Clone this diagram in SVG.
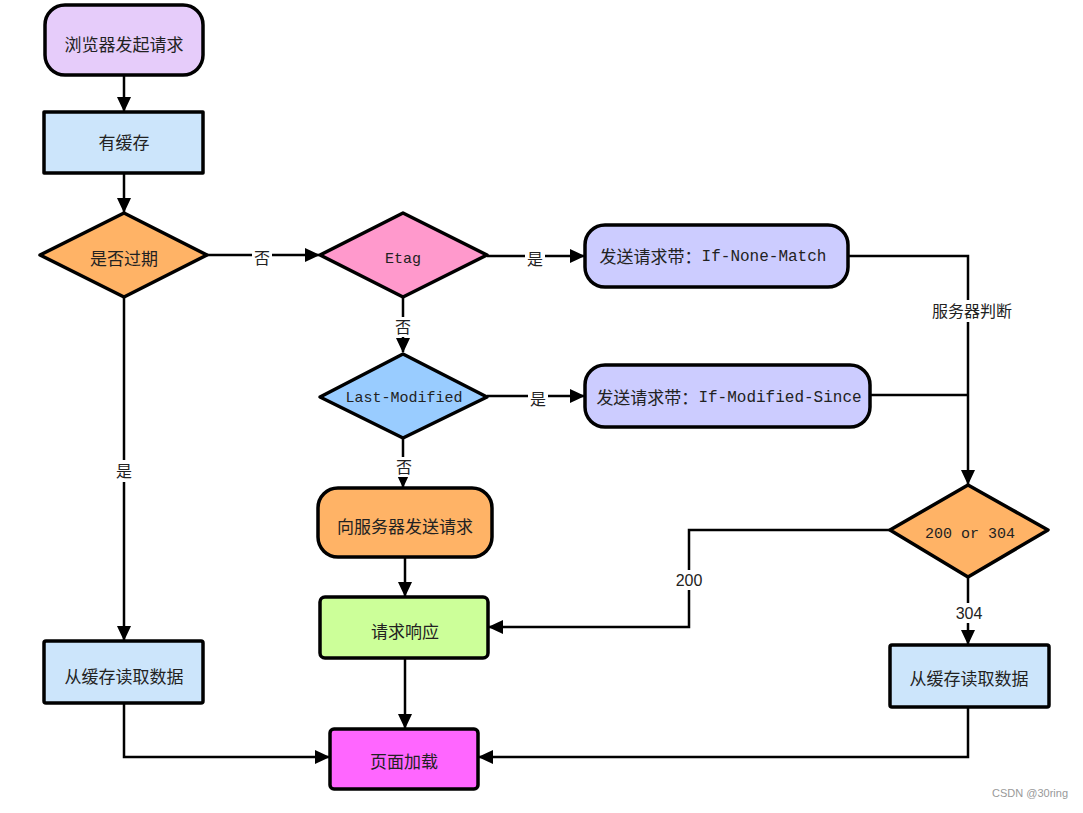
<svg xmlns="http://www.w3.org/2000/svg" width="1083" height="813" viewBox="0 0 1083 813">
<defs>
<marker id="arr" markerUnits="userSpaceOnUse" markerWidth="16" markerHeight="16" refX="14" refY="8" orient="auto">
<path d="M0,1 L15,8 L0,15 Z" fill="#000"/>
</marker>
</defs>
<style>
.n{stroke:#000;stroke-width:3.5;stroke-linejoin:round}
.c{fill:none;stroke:#000;stroke-width:2.5}
.t{font-family:"Liberation Sans","Noto Sans CJK SC",sans-serif;font-size:17px;fill:#222;text-anchor:middle;dominant-baseline:central}
.m{font-family:"Liberation Mono","Noto Sans CJK SC",monospace;font-size:15px;fill:#222;text-anchor:middle;dominant-baseline:central}
.l{font-family:"Liberation Sans","Noto Sans CJK SC",sans-serif;font-size:16px;fill:#222;text-anchor:middle;dominant-baseline:central}
.bg{fill:#fff}
</style>
<rect width="1083" height="813" fill="#fff"/>
<g id="connectors">
<path class="c" d="M124,76 V111" marker-end="url(#arr)"/>
<path class="c" d="M124,174 V212" marker-end="url(#arr)"/>
<path class="c" d="M207,255 H319" marker-end="url(#arr)"/>
<path class="c" d="M487,256 H584" marker-end="url(#arr)"/>
<path class="c" d="M848,256 H968 V484" marker-end="url(#arr)"/>
<path class="c" d="M403,297 V352" marker-end="url(#arr)"/>
<path class="c" d="M487,396 H584" marker-end="url(#arr)"/>
<path class="c" d="M870,395 H968"/>
<path class="c" d="M403,438 V487" marker-end="url(#arr)"/>
<path class="c" d="M405,558 V596" marker-end="url(#arr)"/>
<path class="c" d="M890,530 H689 V627 H489" marker-end="url(#arr)"/>
<path class="c" d="M968,577 V644" marker-end="url(#arr)"/>
<path class="c" d="M124,297 V640" marker-end="url(#arr)"/>
<path class="c" d="M405,659 V728" marker-end="url(#arr)"/>
<path class="c" d="M124,704 V757 H329" marker-end="url(#arr)"/>
<path class="c" d="M968,708 V757 H479" marker-end="url(#arr)"/>
<rect class="bg" x="252" y="246" width="20" height="20"/>
<text class="l" x="262" y="258">否</text>
<rect class="bg" x="525" y="247" width="20" height="20"/>
<text class="l" x="535" y="259">是</text>
<rect class="bg" x="926" y="300" width="94" height="22"/>
<text class="l" x="972" y="311">服务器判断</text>
<rect class="bg" x="394" y="317" width="18" height="20"/>
<text class="l" x="403" y="327">否</text>
<rect class="bg" x="528" y="388" width="20" height="20"/>
<text class="l" x="538" y="399">是</text>
<rect class="bg" x="394" y="457" width="18" height="20"/>
<text class="l" x="404" y="467">否</text>
<rect class="bg" x="674" y="570" width="30" height="20"/>
<text class="l" x="689" y="580">200</text>
<rect class="bg" x="954" y="603" width="30" height="20"/>
<text class="l" x="969" y="613">304</text>
<rect class="bg" x="114" y="460" width="20" height="22"/>
<text class="l" x="124" y="471">是</text>
</g>
<g id="n1"><rect class="n" x="45" y="5" width="158" height="70" rx="20" fill="#e6ccfa"/><text class="t" x="124" y="45">浏览器发起请求</text></g>
<g id="n2"><rect class="n" x="44" y="112" width="159" height="61" fill="#cce5fb"/><text class="t" x="124" y="143">有缓存</text></g>
<g id="n3"><polygon class="n" points="40,255 124,213 207,255 124,297" fill="#ffb366"/><text class="t" x="124" y="259">是否过期</text></g>
<g id="n4"><polygon class="n" points="320,255 403,213 487,255 403,297" fill="#ff99cc"/><text class="m" x="403" y="259">Etag</text></g>
<g id="n5"><rect class="n" x="585" y="225" width="263" height="62" rx="20" fill="#ccccff"/><text class="t" x="713" y="257"><tspan>发送请求带：</tspan><tspan font-family="Liberation Mono,monospace" font-size="16">If-None-Match</tspan></text></g>
<g id="n6"><polygon class="n" points="320,397 403,354 487,397 403,438" fill="#99ccff"/><text class="m" x="404" y="398">Last-Modified</text></g>
<g id="n7"><rect class="n" x="585" y="365" width="285" height="62" rx="20" fill="#ccccff"/><text class="t" x="729" y="398"><tspan>发送请求带：</tspan><tspan font-family="Liberation Mono,monospace" font-size="16">If-Modified-Since</tspan></text></g>
<g id="n8"><rect class="n" x="318" y="488" width="174" height="69" rx="20" fill="#ffb366"/><text class="t" x="405" y="527">向服务器发送请求</text></g>
<g id="n9"><rect class="n" x="320" y="597" width="168" height="61" rx="5" fill="#ccff99"/><text class="t" x="405" y="632">请求响应</text></g>
<g id="n10"><polygon class="n" points="890,530 968,485 1048,530 968,577" fill="#ffb366"/><text class="m" x="970" y="534">200 or 304</text></g>
<g id="n11"><rect class="n" x="44" y="641" width="159" height="62" rx="2" fill="#cce5fb"/><text class="t" x="124" y="677">从缓存读取数据</text></g>
<g id="n12"><rect class="n" x="890" y="645" width="159" height="62" rx="2" fill="#cce5fb"/><text class="t" x="969" y="679">从缓存读取数据</text></g>
<g id="n13"><rect class="n" x="330" y="729" width="148" height="60" rx="4" fill="#ff66ff"/><text class="t" x="404" y="762">页面加载</text></g>
<text x="1068" y="797" font-family="Liberation Sans,sans-serif" font-size="11" fill="#999" text-anchor="end">CSDN @30ring</text>
</svg>
